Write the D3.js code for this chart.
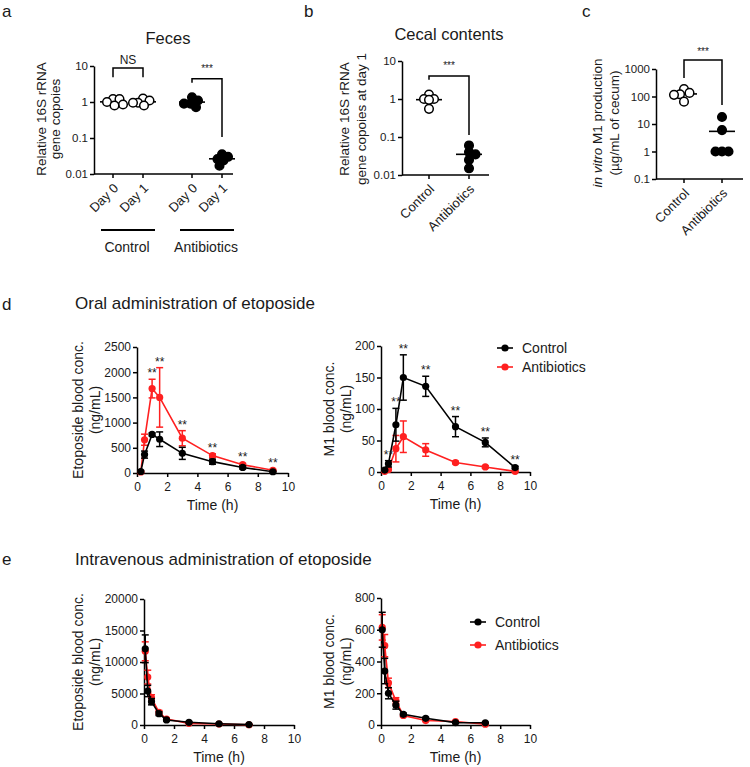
<!DOCTYPE html>
<html lang="en">
<head>
<meta charset="UTF-8">
<title>Etoposide and gut microbiota</title>
<style>
  body { margin: 0; background: #fff; }
  svg { display: block; font-family: Arial, 'Liberation Sans', sans-serif; }
  svg text { fill: #1a1a1a; }
  .axis path, .axis line, .base { stroke: #000; stroke-width: 1.5px; }
  .axis text { font-size: 12px; font-family: Arial, 'Liberation Sans', sans-serif; fill: #1a1a1a; }
  .log .axis text { font-size: 11.5px; }
</style>
</head>
<body>
<svg id="fig" width="750" height="767"></svg>

<script src="https://d3js.org/d3.v7.min.js"></script>
<script>
// ---- a: feces 16S rRNA (relative copies) ----
const fecesGroups = ['Control', 'Antibiotics'];
const fecesDays = ['Day 0', 'Day 1'];
const fecesControl = [[1.2, 1.2, 1.0, 0.85, 0.8], [1.25, 1.1, 0.95, 0.95, 0.8]];
const fecesAntibiotics = [[1.35, 1.1, 0.9, 0.9, 0.72], [0.035, 0.03, 0.026, 0.024, 0.017]];
const ticksA = [0.01, 0.1, 1, 10];

// ---- b: cecal contents at day 1 ----
const cecalGroups = ['Control', 'Antibiotics'];
const cecalControl = [1.3, 1.0, 1.0, 0.95, 0.55];
const cecalAntibiotics = [0.06, 0.04, 0.035, 0.025, 0.015];

// ---- c: in vitro M1 production ----
const m1Groups = ['Control', 'Antibiotics'];
const m1Control = [185, 135, 120, 115, 65];
const m1Antibiotics = [18, 6, 1, 1, 1];
const ticksC = [0.1, 1, 10, 100, 1000];

// ---- d: oral etoposide ----
const oralTimes = [0.25, 0.5, 1, 1.5, 3, 5, 7, 9];
const oralEtoCtrl = [30, 365, 765, 670, 390, 225, 110, 25];
const oralEtoCtrlErr = [20, 70, 30, 145, 120, 50, 30, 10];
const oralEtoAbx = [20, 660, 1675, 1500, 690, 345, 165, 55];
const oralEtoAbxErr = [15, 110, 185, 590, 150, 35, 25, 15];
const oralEtoStars = [1, 1.5, 3, 5, 7, 9];
const oralM1Ctrl = [3, 13, 75, 150, 136, 72, 47, 7];
const oralM1CtrlErr = [1, 5, 26, 36, 16, 16, 7, 2];
const oralM1Abx = [1, 4, 37, 56, 35, 15, 8, 1];
const oralM1AbxErr = [1, 2, 21, 25, 10, 2, 2, 1];
const oralM1Stars = [0.5, 1, 1.5, 3, 5, 7, 9];

// ---- e: intravenous etoposide ----
const ivTimes = [0.083, 0.25, 0.5, 1, 1.5, 3, 5, 7];
const ivEtoCtrl = [12100, 5400, 3700, 1800, 800, 430, 200, 70];
const ivEtoCtrlErr = [2200, 900, 500, 300, 150, 100, 50, 20];
const ivEtoAbx = [11700, 7600, 4300, 2000, 950, 260, 150, 40];
const ivEtoAbxErr = [1500, 1100, 500, 300, 150, 60, 40, 15];
const ivM1Ctrl = [600, 340, 200, 125, 67, 42, 15, 14];
const ivM1CtrlErr = [110, 80, 35, 25, 8, 6, 4, 3];
const ivM1Abx = [615, 500, 265, 152, 60, 28, 22, 5];
const ivM1AbxErr = [80, 70, 30, 20, 8, 5, 4, 2];

const legendLabels = ['Control', 'Antibiotics'];
const timeTicks = [0, 2, 4, 6, 8, 10];

const red = '#ff2020';
const svg = d3.select('#fig');

function label(txt, x, y, size, anchor) {
    return svg.append('text').attr('x', x).attr('y', y)
        .attr('font-size', size).attr('text-anchor', anchor || 'start').text(txt);
}

// two-line rotated y axis title, baselines at xs
function yTitle(lines, xs, cy, size) {
    lines.forEach((l, i) => {
        const t = svg.append('text')
            .attr('transform', `translate(${xs[i]},${cy}) rotate(-90)`)
            .attr('text-anchor', 'middle').attr('font-size', size);
        if (Array.isArray(l)) {
            l.forEach(part => t.append('tspan').attr('font-style', part[1] ? 'italic' : null).text(part[0]));
        } else t.text(l);
    });
}

// compact beeswarm: spread within +-maxDx, overlap allowed when crowded
function swarm(values, cx, y, r) {
    const maxDx = 10, need = r * 1.5;
    const cands = [0];
    for (let c = 0.5; c <= maxDx; c += 0.5) cands.push(c, -c);
    const placed = [];
    values.slice().sort((a, b) => b - a).forEach(v => {
        const cy = y(v);
        const gap = c => d3.min(placed, p => Math.hypot(p.x - (cx + c), p.y - cy)) ?? Infinity;
        let dx = cands.find(c => gap(c) >= need);
        if (dx === undefined) dx = cands[d3.maxIndex(cands, gap)];
        placed.push({ x: cx + dx, y: cy, v: v });
    });
    return placed;
}

function dots(g, values, cx, y, filled) {
    const r = 4.3;
    const m = d3.mean(values);
    g.append('line').attr('x1', cx - 13).attr('x2', cx + 13)
        .attr('y1', y(m)).attr('y2', y(m))
        .attr('stroke', '#000').attr('stroke-width', 1.6);
    g.selectAll(null).data(swarm(values, cx, y, r)).enter().append('circle')
        .attr('cx', d => d.x).attr('cy', d => d.y).attr('r', r)
        .attr('fill', filled ? '#000' : '#fff')
        .attr('stroke', '#000').attr('stroke-width', 1.5);
}

function bracket(g, x1, x2, yTop, yL, yR, txt, size, gap) {
    g.append('path')
        .attr('d', `M${x1},${yL}V${yTop}H${x2}V${yR}`)
        .attr('fill', 'none').attr('stroke', '#000').attr('stroke-width', 1.5);
    g.append('text').attr('x', (x1 + x2) / 2).attr('y', yTop - gap)
        .attr('text-anchor', 'middle').attr('font-size', size).text(txt);
}

function logPanel(domain, yr, x0, x1, ticks) {
    const g = svg.append('g').attr('class', 'log');
    const y = d3.scaleLog().domain(domain).range(yr);
    g.append('g').attr('class', 'axis').attr('transform', `translate(${x0},0)`)
        .call(d3.axisLeft(y).tickValues(ticks).tickFormat(d => String(d))
            .tickSize(4).tickSizeOuter(0).tickPadding(2));
    g.append('line').attr('class', 'base')
        .attr('x1', x0).attr('x2', x1).attr('y1', yr[0]).attr('y2', yr[0]);
    return { g, y };
}

function catTicks(g, xs, names, yBase) {
    xs.forEach((x, i) => {
        g.append('line').attr('class', 'base')
            .attr('x1', x).attr('x2', x).attr('y1', yBase).attr('y2', yBase + 4);
        g.append('text')
            .attr('transform', `translate(${x + 6},${yBase + 15}) rotate(-45)`)
            .attr('text-anchor', 'end').attr('font-size', 13).text(names[i]);
    });
}

// ---------- panel a ----------
label('a', 2, 17, 17);
label('Feces', 168, 44, 16.5, 'middle');
{
    const { g, y } = logPanel([0.01, 10], [174, 66], 94, 233, ticksA);
    const gx = d3.scalePoint().domain(fecesGroups).range([128, 207]);
    const dx = d3.scalePoint().domain(fecesDays).range([-15, 15]);
    const xs = [], names = [];
    fecesGroups.forEach(gr => fecesDays.forEach(d => { xs.push(gx(gr) + dx(d)); names.push(d); }));
    catTicks(g, xs, names, 174);
    fecesDays.forEach((d, i) => {
        dots(g, fecesControl[i], gx('Control') + dx(d), y, false);
        dots(g, fecesAntibiotics[i], gx('Antibiotics') + dx(d), y, true);
    });
    fecesGroups.forEach(gr => {
        g.append('line').attr('x1', gx(gr) - 27).attr('x2', gx(gr) + 27)
            .attr('y1', 230).attr('y2', 230).attr('stroke', '#000').attr('stroke-width', 2);
        g.append('text').attr('x', gx(gr) - 1).attr('y', 252).attr('text-anchor', 'middle')
            .attr('font-size', 14).text(gr);
    });
    const c = gx('Control'), a = gx('Antibiotics');
    bracket(g, c + dx('Day 0'), c + dx('Day 1'), y(8.8), y(4.9), y(4.9), 'NS', 12, 4);
    bracket(g, a + dx('Day 0'), a + dx('Day 1'), y(4.4), y(3.4), y(0.107), '***', 10, 7);
    yTitle(['Relative 16S rRNA', 'gene copoies'], [46, 60], 119, 13.5);
}

// ---------- panel b ----------
label('b', 304, 17, 17);
label('Cecal contents', 449, 40, 16.5, 'middle');
{
    const { g, y } = logPanel([0.01, 10], [175, 61], 402, 489, ticksA);
    const x = d3.scalePoint().domain(cecalGroups).range([429, 469]);
    catTicks(g, cecalGroups.map(x), cecalGroups, 175);
    dots(g, cecalControl, x('Control'), y, false);
    dots(g, cecalAntibiotics, x('Antibiotics'), y, true);
    bracket(g, x('Control'), x('Antibiotics'), y(4.0), y(3.2), y(0.113), '***', 10, 7);
    yTitle(['Relative 16S rRNA', 'gene copoies at day 1'], [349, 366], 119, 13.5);
}

// ---------- panel c ----------
label('c', 582, 17, 17);
{
    const { g, y } = logPanel([0.1, 1000], [179, 69], 656, 743, ticksC);
    const x = d3.scalePoint().domain(m1Groups).range([684, 722]);
    catTicks(g, m1Groups.map(x), m1Groups, 179);
    dots(g, m1Control, x('Control'), y, false);
    dots(g, m1Antibiotics, x('Antibiotics'), y, true);
    bracket(g, x('Control'), x('Antibiotics'), y(2120), y(471), y(49), '***', 10, 5);
    yTitle([[['in vitro', true], [' M1 production', false]], '(\u00b5g/mL of cecum)'], [602, 619], 123, 13.5);
}

// ---------- kinetics panels ----------
function kinetics(cfg) {
    const g = svg.append('g');
    const x = d3.scaleLinear().domain([0, 10]).range(cfg.xr);
    const y = d3.scaleLinear().domain([0, cfg.ymax]).range(cfg.yr);
    g.append('g').attr('class', 'axis').attr('transform', `translate(0,${cfg.yr[0]})`)
        .call(d3.axisBottom(x).tickValues(timeTicks).tickSize(4).tickSizeOuter(0).tickPadding(5));
    g.append('g').attr('class', 'axis').attr('transform', `translate(${cfg.xr[0]},0)`)
        .call(d3.axisLeft(y).tickValues(d3.range(0, cfg.ymax + 1, cfg.step))
            .tickFormat(d3.format('d')).tickSize(4).tickSizeOuter(0).tickPadding(2));

    const series = [
        { v: cfg.abx, e: cfg.abxErr, color: red },
        { v: cfg.ctrl, e: cfg.ctrlErr, color: '#000' }
    ];
    const line = d3.line().x(d => x(d.t)).y(d => y(d.v));
    series.forEach(s => {
        const pts = cfg.times.map((t, i) => ({ t: t, v: s.v[i], e: s.e[i] }));
        const sg = g.append('g');
        sg.append('path').datum(pts).attr('d', line)
            .attr('fill', 'none').attr('stroke', s.color).attr('stroke-width', 1.6);
        const eb = sg.selectAll(null).data(pts).enter().append('g')
            .attr('stroke', s.color).attr('stroke-width', 1.5);
        eb.append('line').attr('x1', d => x(d.t)).attr('x2', d => x(d.t))
            .attr('y1', d => y(Math.max(0, d.v - d.e))).attr('y2', d => y(d.v + d.e));
        eb.append('line').attr('x1', d => x(d.t) - 3.5).attr('x2', d => x(d.t) + 3.5)
            .attr('y1', d => y(d.v + d.e)).attr('y2', d => y(d.v + d.e));
        eb.append('line').attr('x1', d => x(d.t) - 3.5).attr('x2', d => x(d.t) + 3.5)
            .attr('y1', d => y(Math.max(0, d.v - d.e))).attr('y2', d => y(Math.max(0, d.v - d.e)));
        sg.selectAll(null).data(pts).enter().append('circle')
            .attr('cx', d => x(d.t)).attr('cy', d => y(d.v)).attr('r', 3.6)
            .attr('fill', s.color);
    });

    (cfg.stars || []).forEach(t => {
        const i = cfg.times.indexOf(t);
        const top = Math.max(cfg.ctrl[i] + cfg.ctrlErr[i], cfg.abx[i] + cfg.abxErr[i]);
        g.append('text').attr('x', x(t)).attr('y', y(top) - 2)
            .attr('text-anchor', 'middle').attr('font-size', 12).text('**');
    });

    g.append('text').attr('x', x(5)).attr('y', cfg.yr[0] + 37)
        .attr('text-anchor', 'middle').attr('font-size', 14).text('Time (h)');
    yTitle(cfg.ylab, cfg.ylabX, (cfg.yr[0] + cfg.yr[1]) / 2, 14);

    if (cfg.legend) {
        const L = cfg.legend;
        [{ c: '#000' }, { c: red }].forEach((s, i) => {
            const ly = L.y + i * L.dy;
            g.append('line').attr('x1', L.x).attr('x2', L.x + 16).attr('y1', ly).attr('y2', ly)
                .attr('stroke', s.c).attr('stroke-width', 1.6);
            g.append('circle').attr('cx', L.x + 8).attr('cy', ly).attr('r', 3.6).attr('fill', s.c);
            g.append('text').attr('x', L.x + 25).attr('y', ly + 5).attr('font-size', 14).text(legendLabels[i]);
        });
    }
}

label('d', 2, 310, 17);
label('Oral administration of etoposide', 75, 309, 17);
kinetics({
    xr: [137, 288], yr: [473, 347], ymax: 2500, step: 500, times: oralTimes,
    ctrl: oralEtoCtrl, ctrlErr: oralEtoCtrlErr, abx: oralEtoAbx, abxErr: oralEtoAbxErr,
    stars: oralEtoStars, ylab: ['Etoposide blood conc.', '(ng/mL)'], ylabX: [83, 100]
});
kinetics({
    xr: [381, 530], yr: [472, 346], ymax: 200, step: 50, times: oralTimes,
    ctrl: oralM1Ctrl, ctrlErr: oralM1CtrlErr, abx: oralM1Abx, abxErr: oralM1AbxErr,
    stars: oralM1Stars, ylab: ['M1 blood conc.', '(ng/mL)'], ylabX: [334, 351],
    legend: { x: 497, y: 348, dy: 19 }
});

label('e', 2, 565, 17);
label('Intravenous administration of etoposide', 75, 565, 17);
kinetics({
    xr: [144, 294], yr: [725, 599], ymax: 20000, step: 5000, times: ivTimes,
    ctrl: ivEtoCtrl, ctrlErr: ivEtoCtrlErr, abx: ivEtoAbx, abxErr: ivEtoAbxErr,
    ylab: ['Etoposide blood conc.', '(ng/mL)'], ylabX: [83, 100]
});
kinetics({
    xr: [381, 530], yr: [725, 598], ymax: 800, step: 200, times: ivTimes,
    ctrl: ivM1Ctrl, ctrlErr: ivM1CtrlErr, abx: ivM1Abx, abxErr: ivM1AbxErr,
    ylab: ['M1 blood conc.', '(ng/mL)'], ylabX: [334, 351],
    legend: { x: 470, y: 622, dy: 23 }
});
</script>
</body>
</html>
